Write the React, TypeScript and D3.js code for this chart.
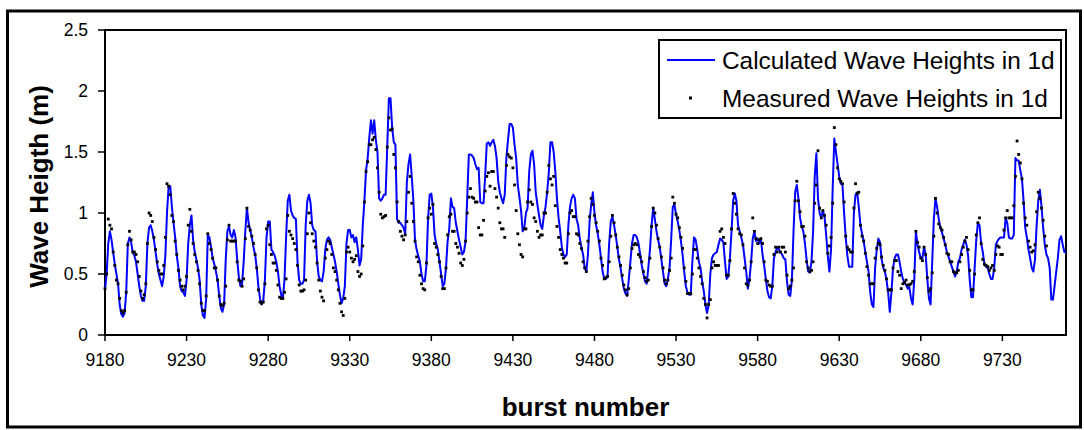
import React from "react";
import * as d3 from "d3";

const START_BURST = 9180;

const calculated: number[] = [
  0.37,0.50,0.75,0.85,0.78,0.68,0.58,0.50,0.42,0.25,
  0.17,0.15,0.18,0.35,0.75,0.80,0.76,0.68,0.65,0.60,
  0.50,0.40,0.32,0.28,0.28,0.40,0.75,0.88,0.90,0.85,
  0.78,0.68,0.58,0.50,0.45,0.40,0.48,0.65,1.00,1.22,
  1.22,1.05,0.92,0.80,0.65,0.55,0.40,0.36,0.35,
  0.32,0.45,0.75,0.90,0.98,0.78,0.68,0.62,0.55,0.45,
  0.25,0.16,0.14,0.30,0.82,0.80,0.72,0.63,0.58,0.52,
  0.45,0.32,0.22,0.19,0.25,0.62,0.85,0.89,0.82,0.80,
  0.86,0.80,0.62,0.48,0.40,0.42,0.60,0.85,1.04,0.92,
  0.86,0.80,0.72,0.66,0.55,0.40,0.30,0.25,0.28,0.45,
  0.80,0.93,0.93,0.70,0.68,0.65,0.60,0.52,0.40,0.33,
  0.30,0.45,0.80,1.10,1.15,1.02,0.98,0.96,0.95,0.60,
  0.45,0.42,0.42,0.45,0.90,1.10,1.15,1.08,0.90,0.86,
  0.85,0.60,0.48,0.45,0.44,0.52,0.70,0.78,0.80,0.78,
  0.72,0.66,0.60,0.52,0.42,0.33,0.26,0.30,0.40,0.75,
  0.86,0.86,0.80,0.82,0.76,0.80,0.70,0.57,0.62,0.90,
  1.10,1.35,1.45,1.62,1.76,1.65,1.76,1.60,1.50,1.12,
  1.10,1.12,1.15,
  1.15,1.55,1.94,1.94,1.70,1.58,1.56,0.95,0.92,0.92,
  0.90,0.88,0.83,1.25,1.40,1.48,1.30,1.10,0.78,0.70,
  0.65,0.60,0.50,0.44,0.44,0.57,0.95,1.15,1.16,1.05,
  0.82,0.75,0.70,0.60,0.50,0.40,0.42,0.55,0.77,0.87,
  1.12,1.05,1.04,0.92,0.85,0.78,0.72,0.66,0.68,0.77,
  1.12,1.48,1.48,1.47,1.45,1.40,1.36,1.37,1.09,1.08,
  1.08,
  1.30,1.57,1.58,1.55,1.58,1.60,1.55,1.45,1.26,1.17,
  1.12,1.08,1.15,1.45,1.60,1.73,1.73,1.70,1.56,1.45,
  1.23,1.13,1.02,0.85,0.88,1.00,1.04,1.34,1.48,1.51,
  1.40,1.17,1.07,0.98,0.90,0.87,0.98,1.05,1.17,1.33,
  1.58,1.58,1.50,1.34,1.12,0.96,0.85,0.72,0.66,0.64,
  0.66,0.90,1.05,1.12,1.15,1.12,0.95,0.90,0.79,0.72,
  0.66,
  0.55,0.52,0.66,0.93,1.07,1.17,1.00,0.90,0.83,0.74,
  0.63,0.52,0.46,0.46,0.48,0.75,0.93,0.97,0.90,0.82,
  0.72,0.62,0.55,0.46,0.38,0.34,0.32,0.45,0.60,0.75,
  0.82,0.82,0.80,0.75,0.66,0.57,0.50,0.44,0.42,0.55,
  0.70,0.90,1.04,0.95,0.85,0.78,0.72,0.62,0.52,0.42,
  0.40,0.46,0.55,0.78,1.05,1.07,0.99,0.93,0.86,0.77,
  0.66,0.52,
  0.40,0.35,0.33,0.33,0.60,0.80,0.78,0.70,0.60,0.55,
  0.44,0.36,0.25,0.18,0.25,0.50,0.63,0.66,0.67,0.68,
  0.74,0.79,0.78,0.76,0.60,0.46,0.48,0.63,0.85,1.10,
  1.16,1.10,0.90,0.85,0.80,0.74,0.63,0.52,0.38,0.46,
  0.60,0.79,0.85,0.77,0.79,0.75,0.79,0.66,0.57,0.46,
  0.36,0.31,0.30,0.40,0.63,0.68,0.72,0.70,0.68,0.66,
  0.63,
  0.62,0.44,0.33,0.32,0.45,0.85,1.17,1.23,1.12,0.96,
  0.89,0.85,0.75,0.62,0.52,0.51,0.60,0.85,1.30,1.49,
  1.12,1.00,0.96,1.02,0.97,0.82,0.65,0.52,0.70,1.20,
  1.61,1.50,1.40,1.30,1.24,1.23,1.00,0.80,0.65,0.56,
  0.56,0.56,1.00,1.15,1.17,1.05,0.90,0.83,0.77,0.68,
  0.60,0.52,0.35,0.25,0.23,0.55,0.70,0.79,0.76,0.62,
  0.55,
  0.52,0.45,0.35,0.19,0.35,0.55,0.63,0.66,0.66,0.60,
  0.52,0.46,0.43,0.41,0.38,0.39,0.30,0.25,0.45,0.85,
  0.74,0.68,0.63,0.63,0.72,0.66,0.46,0.30,0.25,0.60,
  0.95,1.12,1.05,0.95,0.88,0.84,0.79,0.74,0.68,0.64,
  0.60,0.56,0.52,0.48,0.52,0.60,0.63,0.70,0.74,0.78,
  0.74,0.65,0.45,0.31,0.31,0.55,0.78,0.92,0.90,0.75,
  0.68,
  0.58,0.56,0.55,0.50,0.46,0.46,0.55,0.74,0.77,0.79,
  0.80,0.80,0.80,0.96,0.92,0.80,0.79,0.79,0.82,1.45,
  1.43,1.43,1.35,1.28,1.10,0.88,0.80,0.70,0.63,0.55,
  0.52,0.62,0.90,1.10,1.19,1.05,0.88,0.74,0.66,0.63,
  0.55,0.29,0.29,0.40,0.52,0.63,0.78,0.81,0.74,0.68,
  0.68
];

const measured: number[] = [
  0.38,0.50,0.95,0.90,0.87,0.68,0.57,0.45,0.42,0.30,
  0.20,0.18,0.20,0.35,0.74,0.85,0.78,0.68,0.68,0.66,
  0.60,0.48,0.36,0.30,0.33,0.42,0.75,1.00,0.98,0.93,
  0.80,0.70,0.60,0.53,0.50,0.50,0.57,0.80,1.24,1.22,
  1.15,0.98,0.93,0.77,0.66,0.53,0.45,0.40,0.37,
  0.40,0.48,0.90,1.03,0.85,0.75,0.66,0.60,0.53,0.42,
  0.26,0.20,0.20,0.32,0.83,0.75,0.70,0.63,0.55,0.55,
  0.45,0.32,0.25,0.24,0.26,0.40,0.78,0.90,0.77,0.77,
  0.77,0.77,0.60,0.45,0.44,0.40,0.46,0.79,1.04,0.89,
  0.86,0.81,0.75,0.66,0.55,0.37,0.27,0.26,0.27,0.42,
  0.87,0.90,0.74,0.66,0.59,0.59,0.53,0.41,0.31,0.30,
  0.30,0.35,0.46,0.98,0.85,0.82,0.79,0.75,0.70,0.57,
  0.41,0.36,0.36,0.37,0.45,0.83,1.00,0.92,0.83,0.77,
  0.72,0.59,0.45,0.36,0.31,0.28,0.63,0.70,0.77,0.75,
  0.66,0.55,0.52,0.45,0.37,0.26,0.19,0.16,0.30,0.68,
  0.72,0.68,0.63,0.60,0.62,0.65,0.52,0.48,0.50,0.73,
  1.09,1.34,1.42,1.56,1.56,1.60,1.62,1.52,1.37,1.17,
  0.99,0.96,0.97,
  0.98,1.54,1.78,1.68,1.69,1.48,1.37,1.09,0.93,0.85,
  0.81,0.78,0.82,0.93,1.17,1.30,1.08,0.93,0.77,0.64,
  0.60,0.49,0.42,0.38,0.37,0.59,0.96,1.04,0.99,1.07,
  0.75,0.72,0.66,0.60,0.48,0.38,0.38,0.55,0.82,0.97,
  0.99,0.85,0.85,0.75,0.72,0.67,0.59,0.57,0.62,0.77,
  1.00,1.13,1.20,1.13,1.12,1.09,1.09,0.88,0.82,0.82,
  0.94,
  1.18,1.30,1.33,1.22,1.34,1.34,1.20,1.13,1.04,0.92,
  0.87,0.87,0.80,1.39,1.48,1.46,1.45,1.37,1.23,1.02,
  0.83,0.74,0.66,0.64,0.87,0.87,1.09,1.19,1.09,1.07,
  0.96,0.93,0.85,0.80,0.82,0.82,1.00,1.00,1.17,1.39,
  1.28,1.23,1.30,1.06,0.89,0.80,0.70,0.66,0.63,0.59,
  0.59,0.83,1.00,1.02,0.97,0.97,0.83,0.82,0.75,0.71,
  0.60,
  0.55,0.52,0.77,0.97,1.12,1.07,0.98,0.92,0.85,0.77,
  0.63,0.57,0.46,0.47,0.48,0.60,0.81,0.98,0.92,0.82,
  0.72,0.64,0.57,0.49,0.41,0.37,0.33,0.38,0.55,0.71,
  0.74,0.75,0.74,0.66,0.64,0.60,0.52,0.47,0.44,0.45,
  0.63,0.89,1.04,1.00,0.90,0.79,0.72,0.64,0.55,0.45,
  0.42,0.45,0.53,0.63,1.13,1.08,0.99,0.96,0.88,0.80,
  0.71,0.55,
  0.44,0.34,0.34,0.34,0.50,0.70,0.70,0.63,0.55,0.48,
  0.42,0.30,0.25,0.14,0.25,0.29,0.55,0.60,0.57,0.57,
  0.57,0.85,0.87,0.80,0.75,0.49,0.49,0.61,0.87,1.16,
  1.08,0.99,0.87,0.83,0.82,0.74,0.55,0.42,0.41,0.45,
  0.60,0.96,0.85,0.79,0.75,0.78,0.79,0.75,0.60,0.45,
  0.44,0.41,0.40,0.40,0.66,0.72,0.68,0.72,0.68,0.72,
  0.72,
  0.68,0.49,0.38,0.40,0.45,0.55,1.10,1.26,1.10,1.01,
  0.89,0.89,0.81,0.60,0.55,0.52,0.53,0.60,1.08,1.23,
  1.51,1.04,0.96,1.02,0.98,0.90,0.67,0.73,0.80,1.08,
  1.70,1.56,1.37,1.28,1.26,1.24,1.09,0.81,0.72,0.70,
  0.68,0.68,1.04,1.24,1.16,1.17,0.90,0.81,0.77,0.67,
  0.56,0.49,0.42,0.42,0.42,0.63,0.71,0.75,0.74,0.64,
  0.57,
  0.53,0.46,0.37,0.37,0.37,0.55,0.61,0.61,0.52,0.49,
  0.38,0.42,0.43,0.45,0.41,0.41,0.42,0.44,0.52,0.85,
  0.76,0.72,0.63,0.61,0.72,0.66,0.47,0.36,0.38,0.51,
  0.81,1.12,1.00,0.91,0.88,0.86,0.80,0.74,0.67,0.66,
  0.60,0.60,0.52,0.51,0.51,0.53,0.60,0.66,0.72,0.77,
  0.80,0.70,0.53,0.37,0.37,0.50,0.82,0.92,0.96,0.75,
  0.62,
  0.58,0.57,0.56,0.53,0.55,0.57,0.53,0.66,0.73,0.72,
  0.66,0.66,0.86,0.96,1.02,0.96,0.96,0.96,1.06,1.30,
  1.59,1.48,1.41,1.28,1.08,0.96,0.90,0.77,0.72,0.68,
  0.69,0.74,1.01,1.17,1.12,1.04,0.94,0.81,0.73
];

const xTickValues = [9180, 9230, 9280, 9330, 9380, 9430, 9480, 9530, 9580, 9630, 9680, 9730];
const yTickValues = [0, 0.5, 1, 1.5, 2, 2.5];
const legendLabels = ["Calculated Wave Heights in 1d", "Measured Wave Heights in 1d"];
const xTitle = "burst number";
const yTitle = "Wave Heigth (m)";

const FONT = "Arial, 'Liberation Sans', Helvetica, sans-serif";

export default function App() {
  const W = 1084;
  const H = 430;
  const plot = { left: 105, right: 1066, top: 30, bottom: 335 };

  const x = d3
    .scaleLinear()
    .domain([START_BURST, START_BURST + calculated.length - 1])
    .range([plot.left, plot.right]);
  const y = d3.scaleLinear().domain([0, 2.5]).range([plot.bottom, plot.top]);

  const linePath = d3
    .line<number>()
    .x((_, i) => x(START_BURST + i))
    .y((d) => y(d))(calculated) as string;

  const legend = { x: 659, y: 40, w: 402, h: 78 };

  return (
    <svg
      width={W}
      height={H}
      style={{ position: "absolute", left: 0, top: 0, background: "#fff" }}
      fontFamily={FONT}
    >
      <rect x={0} y={0} width={W} height={H} fill="#fff" />
      <rect x={7.5} y={11} width={1073} height={416} fill="none" stroke="#000" strokeWidth={3} />

      <rect
        x={plot.left}
        y={plot.top}
        width={plot.right - plot.left}
        height={plot.bottom - plot.top}
        fill="none"
        stroke="#000"
        strokeWidth={2}
      />

      {yTickValues.map((v) => (
        <g key={"y" + v}>
          <line x1={plot.left - 7} x2={plot.left} y1={y(v)} y2={y(v)} stroke="#000" strokeWidth={1.5} />
          <text x={88} y={y(v)} dy="0.36em" textAnchor="end" fontSize={17.5} fill="#000">
            {String(v)}
          </text>
        </g>
      ))}

      {xTickValues.map((v) => (
        <g key={"x" + v}>
          <line x1={x(v)} x2={x(v)} y1={plot.bottom} y2={plot.bottom + 6} stroke="#000" strokeWidth={1.5} />
          <text x={x(v)} y={plot.bottom + 31} textAnchor="middle" fontSize={17.5} fill="#000">
            {String(v)}
          </text>
        </g>
      ))}

      <path d={linePath} fill="none" stroke="#0000ff" strokeWidth={2} strokeLinejoin="round" />
      {measured.map((v, i) => (
        <rect
          key={"m" + i}
          x={x(START_BURST + i) - 1.4}
          y={y(v) - 1.4}
          width={2.8}
          height={2.8}
          fill="#000"
        />
      ))}

      <text
        x={(plot.left + plot.right) / 2}
        y={416}
        textAnchor="middle"
        fontSize={26}
        fontWeight="bold"
        fill="#000"
      >
        {xTitle}
      </text>
      <text
        transform={`translate(48, ${(plot.top + plot.bottom) / 2 + 4}) rotate(-90)`}
        textAnchor="middle"
        fontSize={26}
        fontWeight="bold"
        fill="#000"
      >
        {yTitle}
      </text>

      <rect x={legend.x} y={legend.y} width={legend.w} height={legend.h} fill="#fff" stroke="#000" strokeWidth={2} />
      <line x1={legend.x + 8} x2={legend.x + 56} y1={legend.y + 20} y2={legend.y + 20} stroke="#0000ff" strokeWidth={2} />
      <rect x={legend.x + 30} y={legend.y + 56.5} width={3} height={3} fill="#000" />
      <text x={722} y={legend.y + 20} dy="0.36em" fontSize={24.4} fill="#000">
        {legendLabels[0]}
      </text>
      <text x={722} y={legend.y + 58} dy="0.36em" fontSize={24.4} fill="#000">
        {legendLabels[1]}
      </text>
    </svg>
  );
}
